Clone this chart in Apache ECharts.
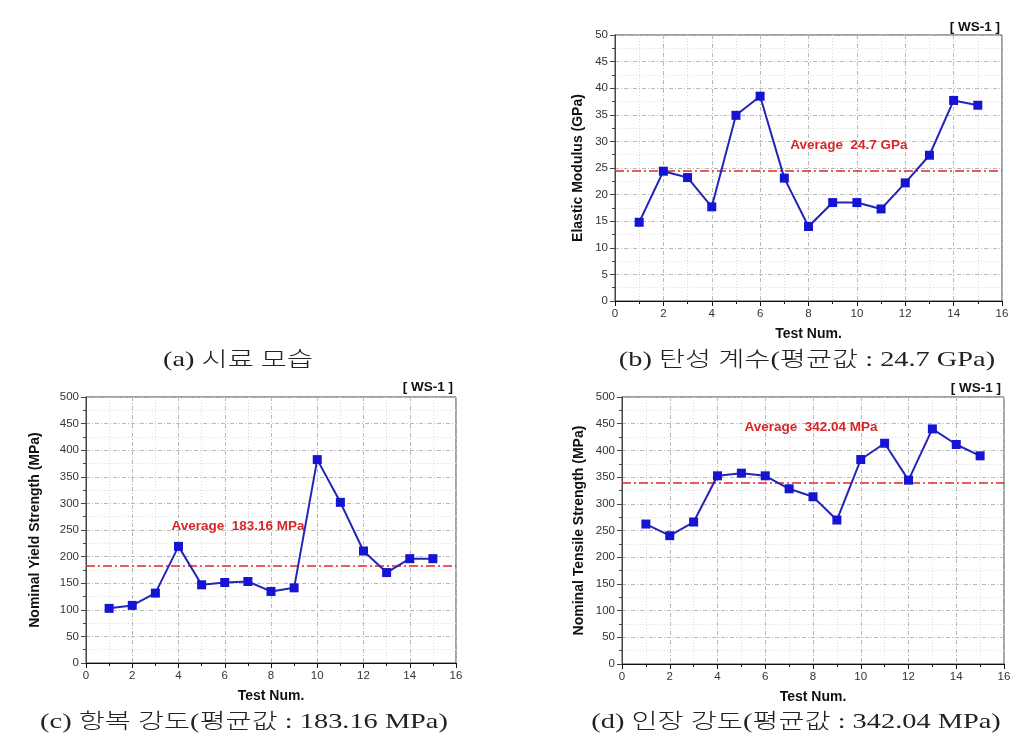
<!DOCTYPE html>
<html>
<head>
<meta charset="utf-8">
<script src="https://cdn.jsdelivr.net/npm/echarts@6/dist/echarts.min.js"></script>
<style>
html,body{margin:0;padding:0;background:#fff;}
#chart{width:1027px;height:748px;}
</style>
</head>
<body>
<div id="chart"></div>
<script>
// ---- data ----
var testNum = [1,2,3,4,5,6,7,8,9,10,11,12,13,14,15];
var elasticModulus = [14.8,24.4,23.2,17.7,34.9,38.5,23.1,14.0,18.5,18.5,17.3,22.2,27.4,37.7,36.8];
var yieldStrength = [102.7,108.3,131.4,219.2,147.0,151.3,153.2,134.5,141.3,382.3,302.0,210.5,170.0,196.1,196.1];
var tensileStrength = [262.1,240.3,265.9,352.4,357.4,352.4,328.1,313.2,269.6,382.9,413.4,344.3,440.2,411.0,389.8];
var avgElastic = 24.5, avgElasticLabel = 'Average  24.7 GPa';
var avgYield = 183.16, avgYieldLabel = 'Average  183.16 MPa';
var avgTensile = 340, avgTensileLabel = 'Average  342.04 MPa';
var xTicks = {min:0, max:16, interval:2};
var yTicksB = {min:0, max:50, interval:5};
var yTicksCD = {min:0, max:500, interval:50};
var captions = ['(a) 시료 모습','(b) 탄성 계수(평균값 : 24.7 GPa)','(c) 항복 강도(평균값 : 183.16 MPa)','(d) 인장 강도(평균값 : 342.04 MPa)'];
var yNames = ['Elastic Modulus (GPa)','Nominal Yield Strength (MPa)','Nominal Tensile Strength (MPa)'];
var xName = 'Test Num.';
var tagLabel = '[ WS-1 ]';

function pairs(ys){ return testNum.map(function(x,i){ return [x, ys[i]]; }); }

var SANS = "'Liberation Sans', Arial, sans-serif";
var grids = [
  {left:615, top:35, width:387, height:266},
  {left:86, top:397, width:370, height:266},
  {left:622, top:397, width:382, height:267}
];
grids.forEach(function(g){ g.show = true; g.borderColor = '#444'; g.borderWidth = 1; g.backgroundColor = 'transparent'; });

function xAxis(i){
  return {
    type:'value', gridIndex:i, min:xTicks.min, max:xTicks.max, interval:xTicks.interval,
    name:xName, nameLocation:'middle', nameGap:26,
    nameTextStyle:{fontFamily:SANS, fontWeight:'bold', fontSize:14, color:'#111'},
    axisLine:{show:true, onZero:false, lineStyle:{color:'#111', width:1}},
    axisTick:{show:true, length:5, lineStyle:{color:'#111'}},
    minorTick:{show:true, splitNumber:2, length:3, lineStyle:{color:'#111'}},
    axisLabel:{fontFamily:SANS, fontSize:11.5, color:'#333', margin:7},
    splitLine:{show:true, lineStyle:{color:'#b8b8b8', width:1, type:[4,2,1,2]}},
    minorSplitLine:{show:true, lineStyle:{color:'#dcdcdc', width:1, type:[1,2]}}
  };
}
function yAxis(i, t, name, gap){
  return {
    type:'value', gridIndex:i, min:t.min, max:t.max, interval:t.interval,
    name:name, nameLocation:'middle', nameGap:gap,
    nameTextStyle:{fontFamily:SANS, fontWeight:'bold', fontSize:14, color:'#111'},
    axisLine:{show:true, onZero:false, lineStyle:{color:'#111', width:1}},
    axisTick:{show:true, length:5, lineStyle:{color:'#111'}},
    minorTick:{show:true, splitNumber:2, length:3, lineStyle:{color:'#111'}},
    axisLabel:{fontFamily:SANS, fontSize:11.5, color:'#333', margin:7},
    splitLine:{show:true, lineStyle:{color:'#b8b8b8', width:1, type:[4,2,1,2]}},
    minorSplitLine:{show:true, lineStyle:{color:'#dcdcdc', width:1, type:[1,2]}}
  };
}
function yAxisRight(i, t){
  return {
    type:'value', gridIndex:i, position:'right', min:t.min, max:t.max, interval:t.interval,
    axisLine:{show:true, lineStyle:{color:'#444'}},
    axisTick:{show:true, inside:true, length:5, lineStyle:{color:'#444'}},
    minorTick:{show:true, splitNumber:2, length:3, lineStyle:{color:'#444'}},
    axisLabel:{show:false}, splitLine:{show:false}
  };
}
function lineSeries(i, ys, avg, labelText, labelCoord){
  return {
    type:'line', xAxisIndex:i, yAxisIndex:i, data:pairs(ys),
    symbol:'rect', symbolSize:9, showSymbol:true,
    itemStyle:{color:'#1414d2'},
    lineStyle:{color:'#2424b8', width:2},
    z:5,
    markLine:{
      silent:true, symbol:'none',
      label:{show:false},
      lineStyle:{color:'#e02828', width:1.5, type:[9,3,2,3]},
      data:[{yAxis:avg}]
    },
    markPoint:{
      silent:true, symbol:'rect', symbolSize:0,
      label:{show:true, position:'inside', formatter:labelText, fontFamily:SANS, fontWeight:'bold', fontSize:13.5, color:'#d62626'},
      data:[{coord:labelCoord}]
    }
  };
}

var CAPFONT = "300 21px 'Liberation Serif', 'Noto Sans CJK KR', serif";
function caption(text, cx, cy, sx){
  return {type:'text', x:cx, y:cy, scaleX:sx, style:{text:text, font:CAPFONT, fill:'#222', textAlign:'center', textVerticalAlign:'middle'}};
}
function tag(rx, cy){
  return {type:'text', x:rx, y:cy, style:{text:tagLabel, font:"bold 13.5px " + SANS, fill:'#111', textAlign:'right', textVerticalAlign:'middle'}};
}

var option = {
  animation:false,
  backgroundColor:'#fff',
  grid:grids,
  xAxis:[xAxis(0), xAxis(1), xAxis(2)],
  yAxis:[yAxis(0, yTicksB, yNames[0], 30), yAxis(1, yTicksCD, yNames[1], 44), yAxis(2, yTicksCD, yNames[2], 36),
         yAxisRight(0, yTicksB), yAxisRight(1, yTicksCD), yAxisRight(2, yTicksCD)],
  series:[
    lineSeries(0, elasticModulus, avgElastic, avgElasticLabel, [9.67, 29.3]),
    lineSeries(1, yieldStrength, avgYield, avgYieldLabel, [6.57, 257.5]),
    lineSeries(2, tensileStrength, avgTensile, avgTensileLabel, [7.92, 443.4])
  ],
  graphic:[
    caption(captions[0], 238, 360, 1.35),
    caption(captions[1], 807, 360, 1.35),
    caption(captions[2], 244, 722, 1.35),
    caption(captions[3], 796, 722, 1.35),
    tag(1000, 27),
    tag(453, 387),
    tag(1001, 388)
  ]
};
var chart = echarts.init(document.getElementById('chart'), null, {renderer:'canvas'});
chart.setOption(option);
</script>
</body>
</html>
